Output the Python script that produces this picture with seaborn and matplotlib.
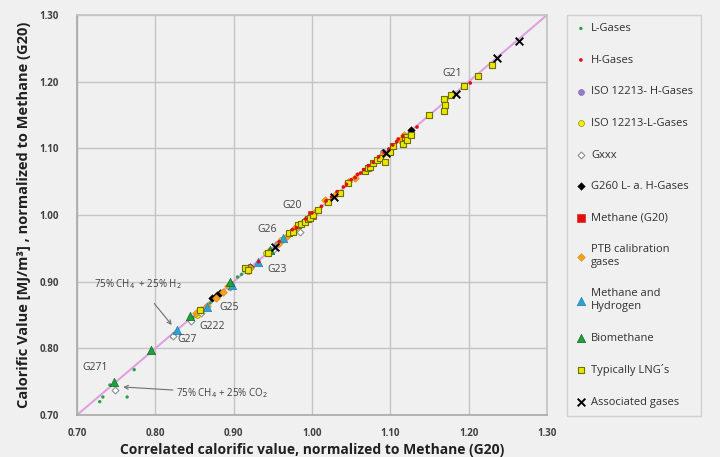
import numpy as np
import matplotlib
matplotlib.use('Agg')
import matplotlib.pyplot as plt
import seaborn as sns

# ---------------- data ----------------
l_gas_x = [0.729, 0.733, 0.764, 0.773, 0.742, 0.821, 0.824, 0.848, 0.870, 0.886, 0.905, 0.910]
l_gas_y = [0.720, 0.727, 0.727, 0.768, 0.745, 0.817, 0.822, 0.846, 0.868, 0.886, 0.907, 0.911]

h_gas_x = [0.932, 0.958, 0.975, 0.980, 0.992, 1.000, 1.012, 1.018, 1.025, 1.032, 1.040, 1.044,
           1.050, 1.055, 1.058, 1.062, 1.066, 1.072, 1.078, 1.085, 1.092, 1.098, 1.103, 1.108,
           1.110, 1.116, 1.134, 1.202]
h_gas_y = [0.930, 0.960, 0.978, 0.981, 0.994, 1.003, 1.013, 1.021, 1.027, 1.035, 1.042, 1.046,
           1.053, 1.056, 1.061, 1.063, 1.068, 1.074, 1.079, 1.087, 1.094, 1.099, 1.105, 1.110,
           1.114, 1.118, 1.132, 1.198]

iso_h_x = [0.955, 1.090]
iso_h_y = [0.956, 1.095]

iso_l_x = [0.853, 0.918, 0.941, 0.960, 0.980]
iso_l_y = [0.850, 0.916, 0.943, 0.962, 0.982]

gxxx_x = [0.748, 0.822, 0.845, 0.858, 0.895, 0.950, 0.985]
gxxx_y = [0.738, 0.818, 0.841, 0.853, 0.892, 0.948, 0.975]

g260_x = [0.872, 0.879, 0.883, 0.918, 0.921, 1.126]
g260_y = [0.875, 0.880, 0.883, 0.920, 0.922, 1.128]

g20_x = [1.000]
g20_y = [1.000]

ptb_x = [0.852, 0.858, 0.866, 0.878, 0.886, 0.893, 0.921, 0.945, 0.958, 0.968, 0.978, 0.990,
         1.005, 1.017, 1.030, 1.046, 1.055, 1.090, 1.112, 1.118]
ptb_y = [0.853, 0.857, 0.864, 0.876, 0.885, 0.893, 0.921, 0.946, 0.958, 0.969, 0.980, 0.991,
         1.006, 1.022, 1.031, 1.050, 1.056, 1.091, 1.113, 1.120]

mh_x = [0.828, 0.866, 0.898, 0.931, 0.963]
mh_y = [0.827, 0.862, 0.895, 0.930, 0.965]

bio_x = [0.747, 0.794, 0.844, 0.895, 0.946]
bio_y = [0.750, 0.798, 0.849, 0.900, 0.947]

lng_x = [0.857, 0.915, 0.918, 0.944, 0.971, 0.976, 0.982, 0.986, 0.991, 0.995, 0.998, 1.001,
         1.008, 1.020, 1.036, 1.046, 1.068, 1.072, 1.074, 1.078, 1.083, 1.087, 1.093, 1.100,
         1.104, 1.116, 1.119, 1.121, 1.126, 1.150, 1.168, 1.170, 1.168, 1.177, 1.194, 1.212, 1.230]
lng_y = [0.857, 0.920, 0.917, 0.943, 0.973, 0.975, 0.985, 0.986, 0.990, 0.994, 0.996, 1.000,
         1.008, 1.020, 1.033, 1.048, 1.066, 1.070, 1.072, 1.078, 1.083, 1.085, 1.080, 1.095,
         1.103, 1.107, 1.117, 1.112, 1.120, 1.150, 1.174, 1.165, 1.156, 1.180, 1.193, 1.208, 1.225]

assoc_x = [0.953, 1.028, 1.094, 1.184, 1.236, 1.264]
assoc_y = [0.952, 1.027, 1.093, 1.181, 1.235, 1.261]

ticks = [0.70, 0.80, 0.90, 1.00, 1.10, 1.20, 1.30]
diag = [0.70, 1.30]

# ---------------- style ----------------
sns.set_theme(style='whitegrid')
plt.rcParams['font.family'] = ['Open Sans', 'DejaVu Sans']

BG = '#f0f0f0'
TXT = '#404040'
fig = plt.figure(figsize=(7.2, 4.57), dpi=100, facecolor=BG)
ax = fig.add_axes([77/720, 1-415/457, (547-77)/720, 400/457])
ax.set_facecolor(BG)

ax.plot(diag, diag, color='#e0a0e0', lw=1.5, zorder=2)

series = [
    ('L-Gases', l_gas_x, l_gas_y, dict(marker='o', s=6, color='#30a050', edgecolor='none', zorder=3)),
    ('H-Gases', h_gas_x, h_gas_y, dict(marker='o', s=7, color='#e01010', edgecolor='none', zorder=3.5)),
    ('ISO 12213- H-Gases', iso_h_x, iso_h_y, dict(marker='o', s=18, color='#9a78d8', edgecolor='#8070a0', linewidth=0.5, zorder=3)),
    ('ISO 12213-L-Gases', iso_l_x, iso_l_y, dict(marker='o', s=18, color='#f0f000', edgecolor='#909000', linewidth=0.5, zorder=3)),
    ('Gxxx', gxxx_x, gxxx_y, dict(marker='D', s=12, color='white', edgecolor='#909090', linewidth=0.8, zorder=3)),
    ('G260 L- a. H-Gases', g260_x, g260_y, dict(marker='D', s=15, color='black', edgecolor='black', zorder=3)),
    ('Methane (G20)', g20_x, g20_y, dict(marker='s', s=26, color='#e01010', edgecolor='#e01010', zorder=3)),
    ('PTB calibration\ngases', ptb_x, ptb_y, dict(marker='D', s=15, color='#f5a020', edgecolor='#e09010', linewidth=0.5, zorder=3)),
    ('Methane and\nHydrogen', mh_x, mh_y, dict(marker='^', s=36, color='#30a0d8', edgecolor='#2080b0', linewidth=0.5, zorder=3)),
    ('Biomethane', bio_x, bio_y, dict(marker='^', s=36, color='#20a040', edgecolor='#107020', linewidth=0.5, zorder=3)),
    ('Typically LNG´s', lng_x, lng_y, dict(marker='s', s=14, color='#e8e800', edgecolor='#707000', linewidth=0.8, zorder=3)),
    ('Associated gases', assoc_x, assoc_y, dict(marker='x', s=30, color='black', linewidth=1.4, zorder=4)),
]

for name, xs, ys, kw in series:
    sns.scatterplot(x=xs, y=ys, ax=ax, label=name, **kw)

ax.set_xlim(0.70, 1.30)
ax.set_ylim(0.70, 1.30)
ax.set_xticks(ticks)
ax.set_yticks(ticks)
ax.set_xticklabels([f'{t:.2f}' for t in ticks], fontsize=7, fontweight='bold', color=TXT)
ax.set_yticklabels([f'{t:.2f}' for t in ticks], fontsize=7, fontweight='bold', color=TXT)
ax.tick_params(axis='x', pad=3)
ax.tick_params(axis='y', pad=7)
ax.grid(True, color='#c4c4c4', lw=1.0)
for sp in ['top', 'right']:
    ax.spines[sp].set_color('#c4c4c4')
for sp in ['left', 'bottom']:
    ax.spines[sp].set_color('#a8a8a8')
    ax.spines[sp].set_linewidth(1.2)

ax.set_xlabel('Correlated calorific value, normalized to Methane (G20)', fontsize=10,
              fontweight='bold', color='#202020', labelpad=3)
ax.set_ylabel('Calorific Value [MJ/m³] , normalized to Methane (G20)', fontsize=10.5,
              fontweight='bold', color='#202020', labelpad=6)

# annotations
labels = [('G21', 1.179, 1.213), ('G20', 0.974, 1.015), ('G26', 0.943, 0.978),
          ('G23', 0.955, 0.919), ('G25', 0.894, 0.861), ('G222', 0.873, 0.833),
          ('G27', 0.840, 0.813), ('G271', 0.723, 0.771)]
for t, x, y in labels:
    ax.text(x, y, t, fontsize=7.5, color=TXT, ha='center', va='center')

ax.annotate('75% CH$_4$  + 25% H$_2$', xy=(0.821, 0.835), xytext=(0.778, 0.897),
            fontsize=7, color=TXT, ha='center', va='center',
            arrowprops=dict(arrowstyle='->', color='#707070', lw=0.8,
                            shrinkA=9, shrinkB=0))
ax.annotate('75% CH$_4$ + 25% CO$_2$', xy=(0.759, 0.742), xytext=(0.885, 0.733),
            fontsize=7, color=TXT, ha='center', va='center',
            arrowprops=dict(arrowstyle='->', color='#707070', lw=0.8,
                            shrinkA=45, shrinkB=0))

leg = ax.legend(loc='upper left', bbox_to_anchor=(567/720, 1-15/457),
                bbox_transform=fig.transFigure, frameon=True, fancybox=False,
                facecolor=BG, edgecolor='#c8c8c8', fontsize=8, labelspacing=1.85,
                handletextpad=0.4, borderpad=0.75, handlelength=1.0, borderaxespad=0)
for t in leg.get_texts():
    t.set_color('#303030')
leg.get_frame().set_linewidth(1.0)

fig.savefig('out.png', dpi=100, facecolor=BG)
